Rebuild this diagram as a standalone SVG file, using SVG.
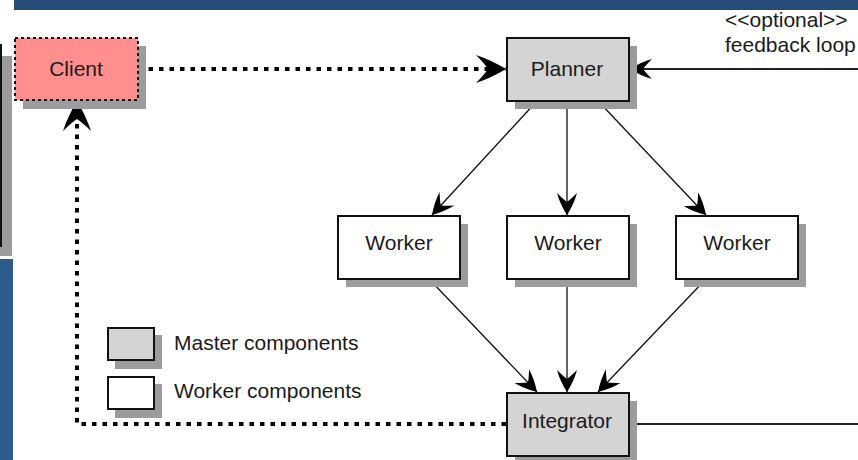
<svg xmlns="http://www.w3.org/2000/svg" width="858" height="460" viewBox="0 0 858 460">
<defs>
<style>
.lbl{font-family:"Liberation Sans",Arial,sans-serif;font-size:21px;fill:#1a1a1a}
.mid{text-anchor:middle}
.shadow{fill:#9c9c9c;stroke:none}
.master{fill:#d4d4d4;stroke:#111;stroke-width:2}
.worker{fill:#fff;stroke:#111;stroke-width:2}
.solid{fill:none;stroke:#111;stroke-width:1.3}
.solid2{fill:none;stroke:#222;stroke-width:2}
.dotted{fill:none;stroke:#000;stroke-width:4;stroke-dasharray:4.5 6}
</style>
<marker id="big" viewBox="-32 -16 34 32" markerWidth="34" markerHeight="32" refX="0" refY="0" orient="auto" markerUnits="userSpaceOnUse">
<path d="M0,0 Q-15,-9 -30,-14 Q-22,-6 -18,0 Q-22,6 -30,14 Q-15,9 0,0Z" fill="#000"/>
</marker>
<marker id="small" viewBox="-24 -12 26 24" markerWidth="26" markerHeight="24" refX="0" refY="0" orient="auto" markerUnits="userSpaceOnUse">
<path d="M0,0 Q-11,-7 -22,-10 Q-16,-4 -13,0 Q-16,4 -22,10 Q-11,7 0,0Z" fill="#000"/>
</marker>
</defs>
<rect width="858" height="460" fill="#fff"/>
<g id="frame">
<rect x="14" y="0" width="844" height="10" fill="#274b77"/>
<rect x="0" y="259" width="13" height="201" fill="#2d5b8c"/>
<rect x="-60" y="56" width="72" height="200" class="shadow"/>
<rect x="-60" y="45" width="61" height="201" fill="#fff" stroke="#111" stroke-width="2"/>
</g>
<g id="connectors">
<line x1="138" y1="69" x2="506" y2="69" class="dotted" marker-end="url(#big)"/>
<polyline points="506,424 77,424 77,101" class="dotted" marker-end="url(#big)"/>
<line x1="858" y1="69" x2="630" y2="69" class="solid2" marker-end="url(#small)"/>
<line x1="630" y1="424" x2="858" y2="424" class="solid2"/>
<line x1="536" y1="102" x2="432" y2="215" class="solid" marker-end="url(#small)"/>
<line x1="567" y1="102" x2="567" y2="215" class="solid" marker-end="url(#small)"/>
<line x1="599" y1="102" x2="706" y2="215" class="solid" marker-end="url(#small)"/>
<line x1="430" y1="280" x2="537" y2="392" class="solid" marker-end="url(#small)"/>
<line x1="567" y1="280" x2="567" y2="392" class="solid" marker-end="url(#small)"/>
<line x1="705" y1="280" x2="598" y2="392" class="solid" marker-end="url(#small)"/>
</g>
<g id="client">
<rect x="23" y="46" width="123" height="63" class="shadow"/>
<rect x="15" y="38" width="123" height="62" fill="#ff8f8f" stroke="#111" stroke-width="2" stroke-dasharray="3 3"/>
<text x="76" y="76" class="lbl mid">Client</text>
</g>
<g id="planner">
<rect x="515" y="46" width="122" height="63" class="shadow"/>
<rect x="507" y="38" width="122" height="63" class="master"/>
<text x="567" y="76" class="lbl mid">Planner</text>
</g>
<g id="worker1">
<rect x="346" y="224" width="122" height="63" class="shadow"/>
<rect x="338" y="216" width="122" height="63" class="worker"/>
<text x="399" y="250" class="lbl mid">Worker</text>
</g>
<g id="worker2">
<rect x="515" y="224" width="122" height="63" class="shadow"/>
<rect x="507" y="216" width="122" height="63" class="worker"/>
<text x="568" y="250" class="lbl mid">Worker</text>
</g>
<g id="worker3">
<rect x="684" y="224" width="122" height="63" class="shadow"/>
<rect x="676" y="216" width="122" height="63" class="worker"/>
<text x="737" y="250" class="lbl mid">Worker</text>
</g>
<g id="integrator">
<rect x="515" y="401" width="122" height="63" class="shadow"/>
<rect x="507" y="393" width="122" height="63" class="master"/>
<text x="567" y="428" class="lbl mid">Integrator</text>
</g>
<g id="legend">
<rect x="115" y="335" width="47" height="34" class="shadow"/>
<rect x="108" y="328" width="46" height="32" class="master"/>
<text x="174" y="350" class="lbl">Master components</text>
<rect x="115" y="384" width="47" height="34" class="shadow"/>
<rect x="108" y="377" width="46" height="32" class="worker"/>
<text x="174" y="398" class="lbl">Worker components</text>
</g>
<g id="feedback-label">
<text x="725" y="27" class="lbl">&lt;&lt;optional&gt;&gt;</text>
<text x="725" y="52" class="lbl">feedback loop</text>
</g>
</svg>
